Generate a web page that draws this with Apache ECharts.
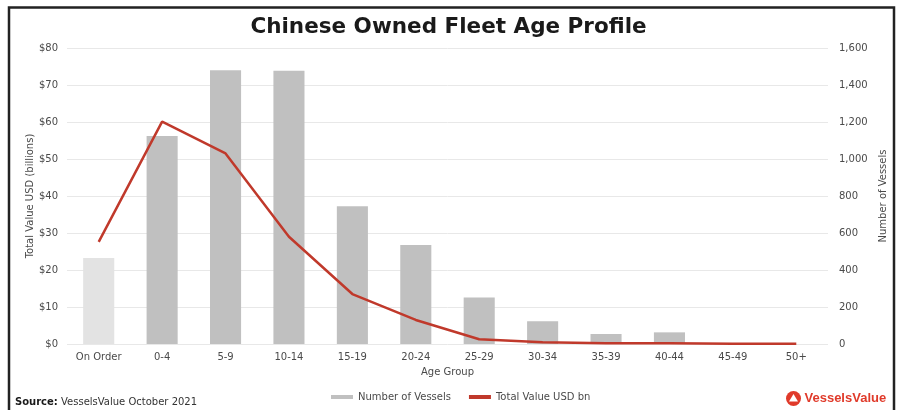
<!DOCTYPE html>
<html>
<head>
<meta charset="utf-8">
<script src="https://cdn.jsdelivr.net/npm/echarts@6/dist/echarts.min.js"></script>
<style>
  html, body { margin: 0; padding: 0; background: #fff; }
  #chart { width: 897px; height: 410px; }
</style>
</head>
<body>
<div id="chart"></div>
<script>
// Age groups along the x axis
const ageGroups = ['On Order', '0-4', '5-9', '10-14', '15-19', '20-24', '25-29', '30-34', '35-39', '40-44', '45-49', '50+'];
// Number of vessels per age group (right axis)
const vesselCounts = [465, 1125, 1480, 1477, 745, 535, 252, 123, 54, 63, 0, 0];
// Total fleet value in USD billions (left axis)
const totalValueBn = [27.6, 60.1, 51.5, 29.0, 13.5, 6.5, 1.3, 0.5, 0.2, 0.2, 0.1, 0.1];
// Axis tick settings
const valueTicks = { min: 0, max: 80, interval: 10 };
const countTicks = { min: 0, max: 1600, interval: 200 };

const FONT = 'DejaVu Sans';
const LABEL_COLOR = '#4a4a4a';
const RED = '#c0392b';

const chart = echarts.init(document.getElementById('chart'), null, { renderer: 'canvas' });

const barData = vesselCounts.map((v, i) => ({
  value: v,
  itemStyle: { color: i === 0 ? '#e3e3e3' : '#c0c0c0' }
}));

chart.setOption({
  animation: false,
  backgroundColor: '#fff',
  textStyle: { fontFamily: FONT },
  title: {
    text: 'Chinese Owned Fleet Age Profile',
    left: 'center',
    top: 11,
    textStyle: { fontFamily: FONT, fontWeight: 'bold', fontSize: 21.5, color: '#1a1a1a' }
  },
  legend: {
    bottom: 3,
    left: 326,
    itemWidth: 22,
    itemHeight: 4,
    itemGap: 18,
    icon: 'rect',
    textStyle: { fontFamily: FONT, fontSize: 10, color: LABEL_COLOR },
    data: [
      { name: 'Number of Vessels', itemStyle: { color: '#c0c0c0' } },
      { name: 'Total Value USD bn', itemStyle: { color: RED } }
    ]
  },
  grid: { left: 67, right: 69, top: 48, bottom: 66 },
  xAxis: {
    type: 'category',
    data: ageGroups,
    name: 'Age Group',
    nameLocation: 'middle',
    nameGap: 23,
    nameTextStyle: { fontFamily: FONT, fontSize: 10, color: LABEL_COLOR },
    axisLine: { show: false },
    axisTick: { show: false },
    axisLabel: { fontFamily: FONT, fontSize: 10, color: LABEL_COLOR, margin: 8, interval: 0 }
  },
  yAxis: [
    {
      type: 'value',
      min: valueTicks.min, max: valueTicks.max, interval: valueTicks.interval,
      name: 'Total Value USD (billions)',
      nameLocation: 'middle',
      nameGap: 32,
      nameMoveOverlap: false,
      nameRotate: 90,
      nameTextStyle: { fontFamily: FONT, fontSize: 10, color: LABEL_COLOR },
      axisLine: { show: false },
      axisTick: { show: false },
      axisLabel: { fontFamily: FONT, fontSize: 10, color: LABEL_COLOR, margin: 9, formatter: v => '$' + v },
      splitLine: { lineStyle: { color: '#e8e8e8', width: 1 } }
    },
    {
      type: 'value',
      min: countTicks.min, max: countTicks.max, interval: countTicks.interval,
      name: 'Number of Vessels',
      nameLocation: 'middle',
      nameGap: 50,
      nameRotate: 90,
      nameTextStyle: { fontFamily: FONT, fontSize: 10, color: LABEL_COLOR },
      axisLine: { show: false },
      axisTick: { show: false },
      axisLabel: { fontFamily: FONT, fontSize: 10, color: LABEL_COLOR, margin: 11, formatter: v => v.toLocaleString('en-US') },
      splitLine: { show: false }
    }
  ],
  series: [
    {
      name: 'Number of Vessels',
      type: 'bar',
      yAxisIndex: 1,
      barWidth: '49%',
      data: barData
    },
    {
      name: 'Total Value USD bn',
      type: 'line',
      yAxisIndex: 0,
      symbol: 'none',
      lineStyle: { color: RED, width: 2.5 },
      itemStyle: { color: RED },
      data: totalValueBn
    }
  ],
  graphic: [
    // outer frame
    { type: 'polyline', silent: true,
      shape: { points: [[9, 412], [9, 7.5], [894, 7.5], [894, 412]] },
      style: { stroke: '#222', lineWidth: 2.5, fill: null } },
    // source note
    { type: 'text', left: 15, top: 397,
      style: {
        text: '{b|Source:} VesselsValue October 2021',
        rich: {
          b: { fontFamily: FONT, fontSize: 10, fontWeight: 'bold', fill: '#1a1a1a' }
        },
        font: '10px "DejaVu Sans"',
        fill: '#333'
      } },
    // brand mark
    { type: 'group', left: 786, top: 391, children: [
      { type: 'circle', shape: { cx: 8, cy: 8, r: 7.5 }, style: { fill: '#e03a2a' } },
      { type: 'polygon', shape: { points: [[8, 3.5], [12.5, 11], [3.5, 11]] }, style: { fill: '#fff' } },
      { type: 'text', left: 19, top: 1,
        style: { text: 'VesselsValue', font: 'bold 13px "Liberation Sans"', fill: '#e03a2a' } }
    ] }
  ]
});
</script>
</body>
</html>
